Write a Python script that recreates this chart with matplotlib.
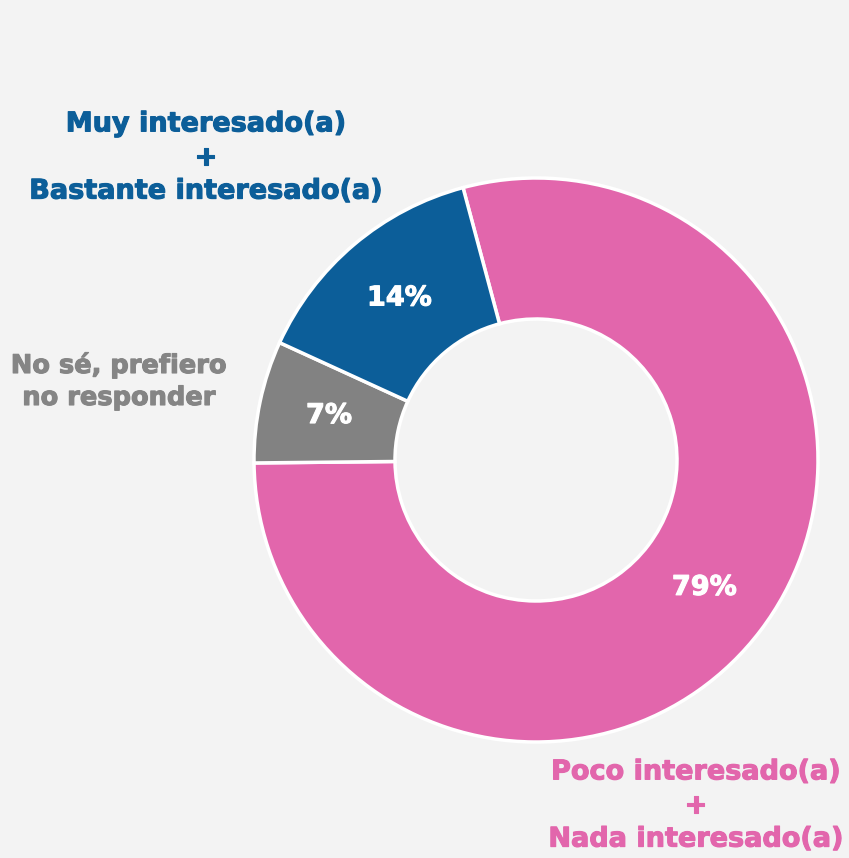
import matplotlib
matplotlib.use("Agg")
import matplotlib.pyplot as plt
import matplotlib.patheffects as pe

# ── Data ──────────────────────────────────────────────────────────────────────
categories = ["Poco interesado(a)\n+\nNada interesado(a)",
              "No sé, prefiero\nno responder",
              "Muy interesado(a)\n+\nBastante interesado(a)"]
values = [79, 7, 14]

# ── Style ─────────────────────────────────────────────────────────────────────
BG = "#F3F3F3"
COLORS = ["#E266AC", "#828282", "#0C5E99"]
LABEL_C = ["#E266AC", "#858585", "#0C5E99"]
FONT = "DejaVu Sans"

W, H = 849, 858
fig = plt.figure(figsize=(W / 100, H / 100), dpi=100, facecolor=BG)
ax = fig.add_axes([0, 0, 1, 1])
ax.set_facecolor(BG)

cx, cy, r = 536, H - 460, 282

wedges, texts, autotexts = ax.pie(
    values, colors=COLORS, startangle=105, counterclock=False,
    center=(cx, cy), radius=r, frame=True,
    autopct=lambda p: f"{p:.0f}%", pctdistance=0.75,
    wedgeprops=dict(width=r * 0.5, edgecolor="white", linewidth=2.5),
    textprops=dict(color="white", fontsize=19.5, fontweight="bold", family=FONT),
)
for t in autotexts:
    t.set_path_effects([pe.withStroke(linewidth=0.8, foreground="white")])

ax.set_xlim(0, W)
ax.set_ylim(0, H)
ax.set_aspect("equal")
ax.axis("off")

# category labels
label_pos = [(696, H - 806, 19.5, 1.38), (119, H - 381, 18.5, 1.3), (206, H - 158, 19.5, 1.38)]
for cat, col, (x, y, fs, ls) in zip(categories, LABEL_C, label_pos):
    ax.text(x, y, cat, color=col, fontsize=fs, fontweight="bold", family=FONT,
            ha="center", va="center", multialignment="center", linespacing=ls,
            path_effects=[pe.withStroke(linewidth=0.8, foreground=col)])

fig.savefig("out.png", dpi=100, facecolor=BG)
